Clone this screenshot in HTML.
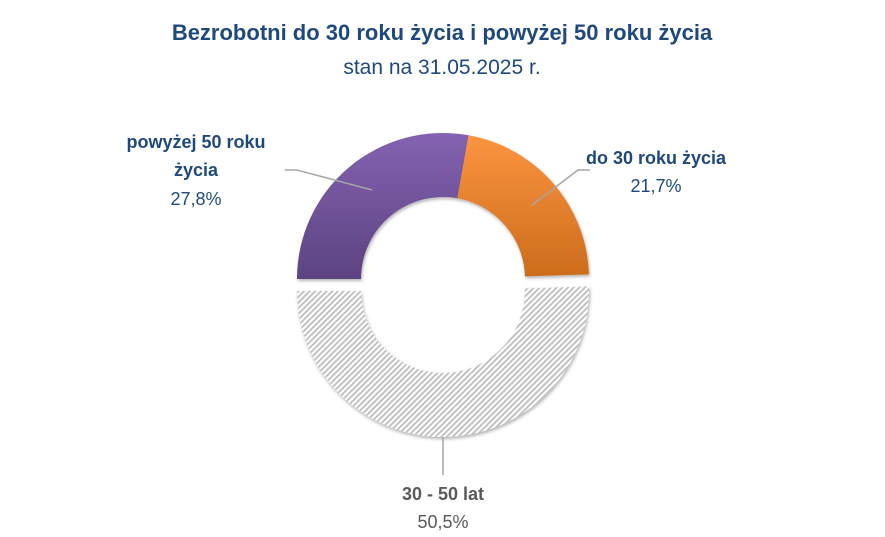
<!DOCTYPE html>
<html><head><meta charset="utf-8"><style>
body{margin:0;background:#fff;}
svg{display:block;font-family:"Liberation Sans","DejaVu Sans",sans-serif;}
</style></head><body>
<svg id="chart" width="885" height="537">
<defs>
<linearGradient id="gPurple" x1="0" y1="0" x2="0" y2="1"><stop offset="0" stop-color="#8462b2"/><stop offset="1" stop-color="#5c4380"/></linearGradient>
<linearGradient id="gOrange" x1="0" y1="0" x2="0" y2="1"><stop offset="0" stop-color="#fb9440"/><stop offset="1" stop-color="#cc6c1c"/></linearGradient>
<pattern id="hatch" width="4" height="4" patternUnits="userSpaceOnUse" patternTransform="rotate(45)"><rect width="4" height="4" fill="#fff"/><rect width="1.8" height="4" fill="#bdbdbd"/></pattern>
<filter id="sh" x="-10%" y="-10%" width="120%" height="130%"><feDropShadow dx="1" dy="2" stdDeviation="1.5" flood-color="#000" flood-opacity="0.3"/></filter>
</defs>
<text x="442" y="40" text-anchor="middle" font-size="22" font-weight="bold" fill="#1f497d">Bezrobotni do 30 roku życia i powyżej 50 roku życia</text>
<text x="442" y="74" text-anchor="middle" font-size="21" fill="#1f497d">stan na 31.05.2025 r.</text>
<g id="slices"></g>
<g id="labels"></g>
</svg>
<script>
const categories = ["powyżej 50 roku życia", "do 30 roku życia", "30 - 50 lat"];
const values = [27.8, 21.7, 50.5];
const valueLabels = ["27,8%", "21,7%", "50,5%"];
const cx = 443, cy = 279, R = 146, r = 82;
const fills = ["url(#gPurple)", "url(#gOrange)", "url(#hatch)"];
const offsets = [[0,0],[0,0],[0,12]];
const ns = "http://www.w3.org/2000/svg";
const total = values.reduce((a,b)=>a+b,0);
function pt(a, rad, o){ return [cx+o[0]+rad*Math.cos(a), cy+o[1]+rad*Math.sin(a)]; }
let ang = Math.PI; // start at 9 o'clock, clockwise
const g = document.getElementById('slices');
values.forEach((v,i)=>{
  const sweep = v/total*2*Math.PI;
  const a0 = ang, a1 = ang+sweep; ang = a1;
  const o = offsets[i];
  const large = sweep > Math.PI ? 1 : 0;
  const p0=pt(a0,R,o), p1=pt(a1,R,o), q1=pt(a1,r,o), q0=pt(a0,r,o);
  const d = `M${p0} A${R},${R} 0 ${large} 1 ${p1} L${q1} A${r},${r} 0 ${large} 0 ${q0} Z`;
  const p = document.createElementNS(ns,'path');
  p.setAttribute('d', d);
  p.setAttribute('fill', fills[i]);
  p.setAttribute('filter', 'url(#sh)');
  
  
  g.appendChild(p);
});
const L = document.getElementById('labels');
function line(pts, name){
  const pl=document.createElementNS(ns,'polyline');
  pl.setAttribute('points', pts.join(' '));
  pl.setAttribute('fill','none'); pl.setAttribute('stroke','#a6a6a6'); pl.setAttribute('stroke-width','1.5');
  
  
  L.appendChild(pl);
}
function text(x,y,s,bold,color,name){
  const t=document.createElementNS(ns,'text');
  t.setAttribute('x',x); t.setAttribute('y',y); t.setAttribute('text-anchor','middle');
  t.setAttribute('font-size','18'); if(bold) t.setAttribute('font-weight','bold');
  t.setAttribute('fill',color); t.textContent=s;
  
  
  L.appendChild(t);
}
line([[532,205],[578,170],[590,170]], 'leader-line-under30');
line([[372,190],[297,170],[285,170]], 'leader-line-over50');
line([[443,437],[443,475]], 'leader-line-30-50');
text(656,164,categories[1],true,"#1f497d",'label-under30');
text(656,192,valueLabels[1],false,"#1f497d",'value-under30');
text(196,148,"powyżej 50 roku",true,"#1f497d",'label-over50-line1');
text(196,176,"życia",true,"#1f497d",'label-over50-line2');
text(196,205,valueLabels[0],false,"#1f497d",'value-over50');
text(443,500,categories[2],true,"#595959",'label-30-50');
text(443,528,valueLabels[2],false,"#595959",'value-30-50');
</script>
</body></html>
